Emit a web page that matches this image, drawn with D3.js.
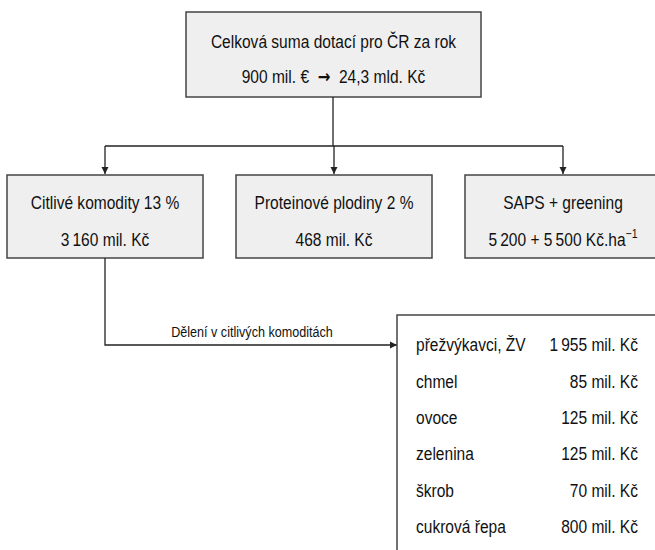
<!DOCTYPE html>
<html>
<head>
<meta charset="utf-8">
<script src="https://cdn.jsdelivr.net/npm/d3@7"></script>
<style>
  body { margin: 0; background: #fff; }
  svg text { font-family: "Liberation Sans", Arial, sans-serif; fill: #111; }
</style>
</head>
<body>
<svg id="chart" width="655" height="550"></svg>
<script>
// data
var topLines = [['Celková suma dotací pro ČR za rok'], ['900 mil. €', '24,3 mld. Kč']];
var boxNames = ['Citlivé komodity 13 %', 'Proteinové plodiny 2 %', 'SAPS + greening'];
var boxValues = ['3\u2009160 mil. Kč', '468 mil. Kč', '5\u2009200 + 5\u2009500 Kč.ha'];
var boxSup = ['', '', '\u22121'];
var splitLabel = 'Dělení v citlivých komoditách';
var commodities = ['přežvýkavci, ŽV', 'chmel', 'ovoce', 'zelenina', 'škrob', 'cukrová řepa'];
var amounts = ['1\u2009955', '85', '125', '125', '70', '800'];

var svg = d3.select('#chart');
var stroke = '#222';
var narrow = 'scale(0.84,1)';   // condensed look
var fs = 18.5;

svg.append('defs').append('marker')
  .attr('id', 'arrow')
  .attr('viewBox', '0 0 10 10')
  .attr('refX', 10).attr('refY', 5)
  .attr('markerWidth', 7).attr('markerHeight', 8)
  .attr('markerUnits', 'userSpaceOnUse')
  .attr('orient', 'auto')
  .append('path')
  .attr('d', 'M0,0 L10,5 L0,10 Z')
  .attr('fill', stroke);

function label(sel, x, y, size, anchor) {
  return sel.append('g')
    .attr('transform', 'translate(' + x + ',' + y + ')')
    .append('text')
    .attr('transform', narrow)
    .attr('text-anchor', anchor || 'middle')
    .attr('font-size', size);
}

// scales for layout
var xBox = d3.scalePoint().domain(boxNames).range([105, 563]);
var boxW = 196, boxTop = 175, boxH = 83;
var yRow = d3.scaleBand().domain(commodities).range([327, 545]);

// top box
svg.append('rect')
  .attr('x', 186).attr('y', 12).attr('width', 295).attr('height', 85)
  .attr('fill', '#efefef').attr('stroke', '#444').attr('stroke-width', 1.5);
topLines.forEach(function(parts, i) {
  var t = label(svg, 333.5, 48 + i * 35, fs).attr('xml:space', 'preserve');
  t.append('tspan').text(parts[0]);
  if (parts.length > 1) {
    t.append('tspan').text('  ');
    t.append('tspan').style('font-family', 'DejaVu Sans').attr('font-size', 18).attr('font-weight', 'bold').text('\u2192');
    t.append('tspan').text('  ' + parts[1]);
  }
});

// connectors
svg.append('line')
  .attr('x1', 333).attr('x2', 333).attr('y1', 97).attr('y2', 146)
  .attr('stroke', stroke).attr('stroke-width', 1.3);
svg.append('line')
  .attr('x1', xBox(boxNames[0])).attr('x2', xBox(boxNames[2]))
  .attr('y1', 146).attr('y2', 146)
  .attr('stroke', stroke).attr('stroke-width', 1.3);
svg.selectAll('.down')
  .data(boxNames)
  .enter().append('line')
  .attr('class', 'down')
  .attr('x1', function(d) { return xBox(d); })
  .attr('x2', function(d) { return xBox(d); })
  .attr('y1', 146).attr('y2', boxTop - 1)
  .attr('stroke', stroke).attr('stroke-width', 1.3)
  .attr('marker-end', 'url(#arrow)');

// middle boxes
var boxes = svg.selectAll('.box')
  .data(boxNames)
  .enter().append('g')
  .attr('class', 'box')
  .attr('transform', function(d) { return 'translate(' + xBox(d) + ',' + boxTop + ')'; });
boxes.append('rect')
  .attr('x', -boxW / 2).attr('y', 0).attr('width', boxW).attr('height', boxH)
  .attr('fill', '#efefef').attr('stroke', '#444').attr('stroke-width', 1.5);
boxes.each(function(d, i) {
  var g = d3.select(this);
  label(g, 0, 34, fs).text(d);
  var v = label(g, 0, 71, fs);
  v.append('tspan').text(boxValues[i]);
  v.append('tspan').attr('font-size', 12.5).attr('dy', -8).text(boxSup[i]);
});

// split connector
var xFirst = xBox(boxNames[0]);
svg.append('path')
  .attr('d', 'M' + xFirst + ',' + (boxTop + boxH) + ' V345 H397')
  .attr('fill', 'none')
  .attr('stroke', stroke).attr('stroke-width', 1.3)
  .attr('marker-end', 'url(#arrow)');
label(svg, 252, 337, 15).text(splitLabel);

// commodity table
svg.append('rect')
  .attr('x', 397).attr('y', 315).attr('width', 280).attr('height', 260)
  .attr('fill', '#fff').attr('stroke', '#444').attr('stroke-width', 1.5);
var rows = svg.selectAll('.row')
  .data(commodities)
  .enter().append('g')
  .attr('class', 'row')
  .attr('transform', function(d) { return 'translate(0,' + (yRow(d) + yRow.bandwidth() / 2 + 6) + ')'; });
rows.each(function(d, i) {
  var g = d3.select(this);
  label(g, 416, 0, fs, 'start').text(d);
  label(g, 638, 0, fs, 'end').text(amounts[i] + ' mil. Kč');
});
</script>
</body>
</html>
